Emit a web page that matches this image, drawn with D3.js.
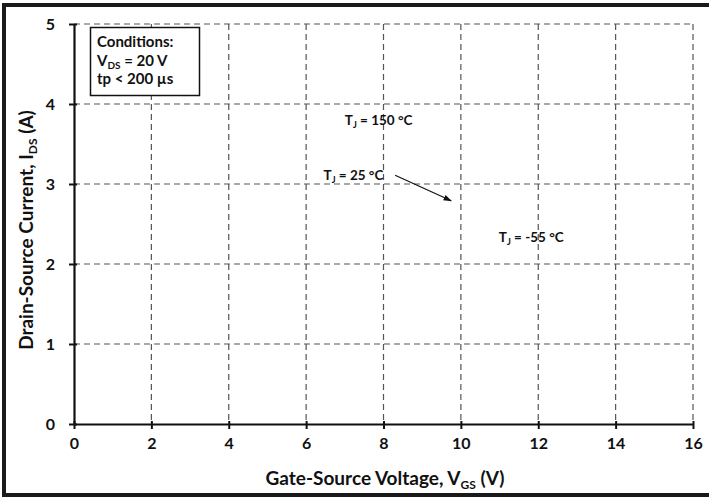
<!DOCTYPE html>
<html><head><meta charset="utf-8">
<script src="https://cdn.jsdelivr.net/npm/d3@7"></script>
<style>body{margin:0;background:#fff}svg{display:block}text{font-family:Lato,"Open Sans",sans-serif;font-weight:bold;fill:#111}</style>
</head><body>
<svg id="c" width="709" height="498"></svg>
<script>
const xDomain = [0, 16];
const yDomain = [0, 5];
const xTicks = [0, 2, 4, 6, 8, 10, 12, 14, 16];
const yTicks = [0, 1, 2, 3, 4, 5];
const conditions = ["Conditions:", "V|DS| = 20 V", "tp < 200 µs"];
const curveLabels = [
  {label: "T", sub: "J", rest: " = 150 °C", x: 7.0, y: 3.74},
  {label: "T", sub: "J", rest: " = 25 °C", x: 6.45, y: 3.05},
  {label: "T", sub: "J", rest: " = -55 °C", x: 10.98, y: 2.28}
];
const arrow = {x1: 8.3, y1: 3.11, x2: 9.75, y2: 2.79};

const svg = d3.select("#c");
const m = {l: 74, r: 693, t: 24, b: 424};
const x = d3.scaleLinear().domain(xDomain).range([m.l, m.r]);
const y = d3.scaleLinear().domain(yDomain).range([m.b, m.t]);

// outer frame
svg.append("rect").attr("x", 4).attr("y", 5).attr("width", 740).attr("height", 490)
  .attr("fill", "none").attr("stroke", "#1a1a1a").attr("stroke-width", 4);

// grid
const grid = svg.append("g").attr("stroke", "#555").attr("stroke-width", 1.2).attr("stroke-dasharray", "6,4");
grid.selectAll(".gx").data(xTicks.filter(d => d > 0)).join("line")
  .attr("x1", d => x(d)).attr("x2", d => x(d)).attr("y1", y(5)).attr("y2", y(0));
grid.selectAll(".gy").data(yTicks.filter(d => d > 0)).join("line")
  .attr("y1", d => y(d)).attr("y2", d => y(d)).attr("x1", x(0)).attr("x2", x(16));

// axes
const xAxis = d3.axisBottom(x).tickValues(xTicks).tickFormat(d3.format("d")).tickSize(5).tickSizeOuter(0).tickPadding(9);
const gx = svg.append("g").attr("transform", `translate(0,${y(0)})`).call(xAxis);
gx.select(".domain").attr("stroke", "#111").attr("stroke-width", 2.2);
gx.selectAll(".tick line").attr("stroke", "#111").attr("stroke-width", 2).attr("y1", -3);
gx.selectAll("text").style("font-size", "16px").attr("fill", "#111");

const yAxis = d3.axisLeft(y).tickValues(yTicks).tickFormat(d3.format("d")).tickSize(5).tickSizeOuter(0).tickPadding(14);
const gy = svg.append("g").attr("transform", `translate(${x(0)},0)`).call(yAxis);
gy.select(".domain").attr("stroke", "#111").attr("stroke-width", 2.2);
gy.selectAll(".tick line").attr("stroke", "#111").attr("stroke-width", 2).attr("x1", 3);
gy.selectAll("text").style("font-size", "16px").attr("fill", "#111");

// axis titles
const xt = svg.append("text").attr("x", 385).attr("y", 485).attr("text-anchor", "middle").style("font-size", "19px");
xt.append("tspan").text("Gate-Source Voltage, V");
xt.append("tspan").text("GS").style("font-size", "12px").attr("dy", 4);
xt.append("tspan").text(" (V)").attr("dy", -4);

const yt = svg.append("text").attr("transform", "translate(33,230) rotate(-90)").attr("text-anchor", "middle").style("font-size", "19px");
yt.append("tspan").text("Drain-Source Current, I");
yt.append("tspan").text("DS").style("font-size", "12px").attr("dy", 4);
yt.append("tspan").text(" (A)").attr("dy", -4);

// conditions box
svg.append("rect").attr("x", 90.5).attr("y", 27.5).attr("width", 109).attr("height", 68)
  .attr("fill", "#fff").attr("stroke", "#111").attr("stroke-width", 1.5);
conditions.forEach((c, i) => {
  const t = svg.append("text").attr("x", 97).attr("y", 47 + i * 18.5).style("font-size", "15px");
  const parts = c.split("|");
  t.append("tspan").text(parts[0]);
  if (parts.length > 1) {
    t.append("tspan").text(parts[1]).style("font-size", "10px").attr("dy", 3);
    t.append("tspan").text(parts[2]).attr("dy", -3);
  }
});

// curve labels
curveLabels.forEach(d => {
  const t = svg.append("text").attr("x", x(d.x)).attr("y", y(d.y)).style("font-size", "13.5px");
  t.append("tspan").text(d.label);
  t.append("tspan").text(d.sub).style("font-size", "9px").attr("dy", 3);
  t.append("tspan").text(d.rest).attr("dy", -3);
});

// arrow
svg.append("defs").append("marker").attr("id", "ah").attr("viewBox", "0 0 10 10")
  .attr("refX", 9).attr("refY", 5).attr("markerWidth", 7).attr("markerHeight", 7).attr("orient", "auto")
  .append("path").attr("d", "M0,1.5 L10,5 L0,8.5 Z").attr("fill", "#111");
svg.append("line").attr("x1", x(arrow.x1)).attr("y1", y(arrow.y1)).attr("x2", x(arrow.x2)).attr("y2", y(arrow.y2))
  .attr("stroke", "#111").attr("stroke-width", 1.2).attr("marker-end", "url(#ah)");
</script>
</body></html>
